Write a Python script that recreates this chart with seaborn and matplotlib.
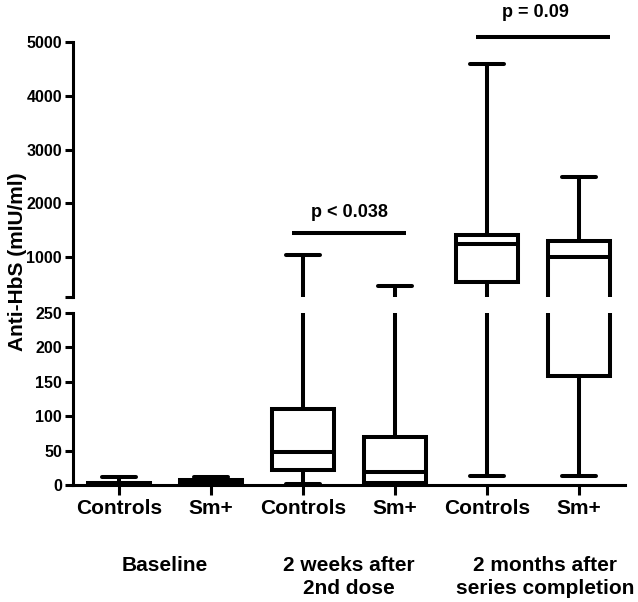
import numpy as np
import pandas as pd
import matplotlib
matplotlib.use("Agg")
import matplotlib.pyplot as plt
import matplotlib.transforms as mtransforms
import seaborn as sns

# ---- data ----
groups = ["B_Controls", "B_Sm+", "W_Controls", "W_Sm+", "M_Controls", "M_Sm+"]
tick_labels = ["Controls", "Sm+", "Controls", "Sm+", "Controls", "Sm+"]
period_labels = ["Baseline", "2 weeks after\n2nd dose", "2 months after\nseries completion"]
g_min = [0, 0, 1, 0, 13, 13]
g_q1 = [0.5, 1, 22, 3, 537, 158]
g_med = [2, 5, 48, 19, 1240, 1000]
g_q3 = [3, 7, 110, 70, 1407, 1290]
g_max = [12, 12, 1030, 460, 4600, 2480]
pvals = ["p < 0.038", "p = 0.09"]

rows = []
for g, a, b, c, d, e in zip(groups, g_min, g_q1, g_med, g_q3, g_max):
    for v in (a, b, c, d, e):
        rows.append({"group": g, "value": v})
df = pd.DataFrame(rows)

sns.set_style("white")
plt.rcParams["font.family"] = ["Liberation Sans", "DejaVu Sans"]
plt.rcParams["font.weight"] = "bold"
plt.rcParams["text.color"] = "black"
plt.rcParams["xtick.color"] = "black"
plt.rcParams["ytick.color"] = "black"
plt.rcParams["axes.labelcolor"] = "black"

fig = plt.figure(figsize=(6.38, 6.02), dpi=100)
ax_top = fig.add_axes([0.1144, 0.5066, 0.8652, 0.4236])
ax_bot = fig.add_axes([0.1144, 0.1944, 0.8652, 0.2857])

LW = 2.9
for ax in (ax_top, ax_bot):
    sns.boxplot(data=df, x="group", y="value", order=groups, whis=(0, 100),
                width=0.68, color="white", saturation=1, linecolor="black",
                linewidth=LW, fliersize=0, capwidths=0.37, ax=ax)
    ax.set_xlim(-0.5, 5.5)
    ax.set_xlabel("")
    ax.set_ylabel("")
    for s in ("top", "right"):
        ax.spines[s].set_visible(False)
    for s in ("left", "bottom"):
        ax.spines[s].set_linewidth(2.2)
        ax.spines[s].set_color("black")
    ax.tick_params(axis="y", direction="out", length=6, width=2.2, pad=2,
                   labelsize=11, left=True, color="black", labelcolor="black")

# top segment
ax_top.set_ylim(256, 5000)
ax_top.spines["bottom"].set_visible(False)
ax_top.tick_params(axis="x", bottom=False, labelbottom=False)
ax_top.set_yticks([256, 1000, 2000, 3000, 4000, 5000])
ax_top.set_yticklabels(["", "1000", "2000", "3000", "4000", "5000"], fontweight="bold", fontsize=11.5)

# bottom segment
ax_bot.set_ylim(0, 250)
ax_bot.set_yticks([0, 50, 100, 150, 200, 250])
ax_bot.set_yticklabels(["0", "50", "100", "150", "200", "250"], fontweight="bold", fontsize=11.5)
ax_bot.set_xticks(range(len(groups)))
ax_bot.set_xticklabels(tick_labels, fontsize=15, fontweight="bold")
ax_bot.tick_params(axis="x", direction="out", length=7, width=2.2, pad=3,
                   bottom=True, color="black", labelcolor="black")

# period labels
tr = mtransforms.blended_transform_factory(ax_bot.transData, fig.transFigure)
for x, lab in zip([0.5, 2.5, 4.63], period_labels):
    fig.text(x, 1 - 556 / 602, lab, transform=tr, ha="center", va="top",
             fontsize=15, fontweight="bold", linespacing=1.25, color="black")

# y label
fig.text(18 / 638, 1 - 262 / 602, "Anti-HbS (mIU/ml)", rotation=90,
         ha="center", va="center", fontsize=15, fontweight="bold", color="black")

# significance bars
ax_top.plot([1.876, 3.12], [1447, 1447], color="black", lw=LW,
            solid_capstyle="butt", clip_on=False)
ax_top.text(2.5, 1744, pvals[0], ha="center", va="baseline", fontsize=13,
            fontweight="bold", color="black")
ax_top.plot([3.88, 5.34], [5093, 5093], color="black", lw=LW,
            solid_capstyle="butt", clip_on=False)
ax_top.text(4.53, 5460, pvals[1], ha="center", va="baseline", fontsize=13,
            fontweight="bold", color="black", clip_on=False)

fig.savefig("out.png", dpi=100)
